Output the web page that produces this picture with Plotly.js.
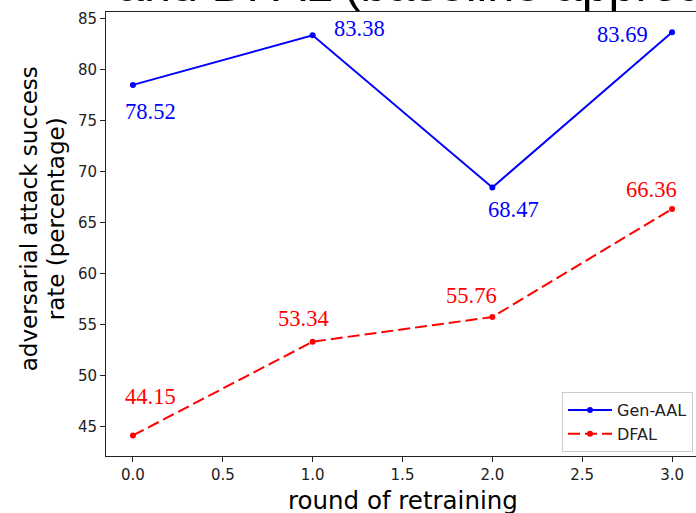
<!DOCTYPE html>
<html>
<head>
<meta charset="utf-8">
<script src="https://cdn.plot.ly/plotly-3.0.1.min.js"></script>
<style>html,body{margin:0;padding:0;background:#fff;}#chart{width:696px;height:513px;}</style>
</head>
<body>
<div id="chart"></div>
<script>
// ---- data ----
const rounds = [0, 1, 2, 3];
const genAAL = [78.52, 83.38, 68.47, 83.69];
const dfal = [44.15, 53.34, 55.76, 66.36];
const seriesNames = ["Gen-AAL", "DFAL"];
const xTickVals = [0, 0.5, 1, 1.5, 2, 2.5, 3];
const yTickVals = [45, 50, 55, 60, 65, 70, 75, 80, 85];
const titleText = "and DFAL (baseline approach)";
const xTitle = "round of retraining";
const yTitleLines = ["adversarial attack success", "rate (percentage)"];

// label offsets in pixels (dx right, dy down) relative to each point
const genShift = [[18, 26.5], [47, -7], [21, 22], [-50, 2]];
const dfalShift = [[18, -39], [-9, -23], [-21, -22], [-21, -19]];

const W = 696, H = 513;
const M = {l: 106, r: 0, t: 11.5, b: 57};
const pw = W - M.l - M.r, ph = H - M.t - M.b;
const px2paperX = p => (p - M.l) / pw;
const px2paperY = p => (H - M.b - p) / ph;

const traces = [
  {x: rounds, y: genAAL, name: seriesNames[0], type: 'scatter', mode: 'lines+markers',
   line: {color: '#0000ff', width: 2}, marker: {color: '#0000ff', size: 6}},
  {x: rounds, y: dfal, name: seriesNames[1], type: 'scatter', mode: 'lines+markers',
   line: {color: '#ff0000', width: 2, dash: '12px,5px'}, marker: {color: '#ff0000', size: 6}}
];

const annotations = [];
function addLabels(vals, shifts, color) {
  vals.forEach((v, i) => {
    annotations.push({x: rounds[i], y: v, xref: 'x', yref: 'y', text: v.toFixed(2), showarrow: false,
      xanchor: 'center', yanchor: 'middle', xshift: shifts[i][0], yshift: -shifts[i][1],
      font: {family: 'Liberation Serif, Times New Roman, serif', size: 22.5, color: color}});
  });
}
addLabels(genAAL, genShift, '#0000ff');
addLabels(dfal, dfalShift, '#ff0000');

// title (mostly cut off at top of image)
annotations.push({xref: 'paper', yref: 'paper', x: px2paperX(115), y: px2paperY(14), yshift: 1.5, xanchor: 'left', yanchor: 'bottom',
  text: titleText, showarrow: false, font: {family: 'Liberation Sans, Arial, sans-serif', size: 48.5, color: '#000'}});
// x axis title
annotations.push({xref: 'paper', yref: 'paper', x: px2paperX(403), y: px2paperY(501), xanchor: 'center', yanchor: 'middle',
  text: xTitle, showarrow: false, font: {family: 'DejaVu Sans, sans-serif', size: 24.5, color: '#000'}});
// y axis title (two lines)
annotations.push({xref: 'paper', yref: 'paper', x: px2paperX(29), y: px2paperY(219), xanchor: 'center', yanchor: 'middle',
  text: yTitleLines[0], textangle: -90, showarrow: false, font: {family: 'DejaVu Sans, sans-serif', size: 23, color: '#000'}});
annotations.push({xref: 'paper', yref: 'paper', x: px2paperX(56), y: px2paperY(219), xanchor: 'center', yanchor: 'middle',
  text: yTitleLines[1], textangle: -90, showarrow: false, font: {family: 'DejaVu Sans, sans-serif', size: 23, color: '#000'}});

const layout = {
  width: W, height: H,
  margin: M,
  paper_bgcolor: '#fff', plot_bgcolor: '#fff',
  showlegend: true,
  xaxis: {range: [-0.15, -0.15 + pw / 179.7], tickvals: xTickVals, tickformat: '.1f',
    showgrid: false, zeroline: false, showline: true, mirror: true, linecolor: '#222', linewidth: 1,
    ticks: 'outside', ticklen: 5, tickwidth: 1, tickcolor: '#222',
    tickfont: {family: 'DejaVu Sans, sans-serif', size: 15, color: '#222'}},
  yaxis: {range: [42.13, 85.67], tickvals: yTickVals,
    showgrid: false, zeroline: false, showline: true, linecolor: '#222', linewidth: 1,
    ticks: 'outside', ticklen: 5, tickwidth: 1, tickcolor: '#222',
    tickfont: {family: 'DejaVu Sans, sans-serif', size: 15, color: '#222'}},
  legend: {x: px2paperX(562), y: px2paperY(392), xanchor: 'left', yanchor: 'top',
    itemwidth: 44, tracegroupgap: 0,
    bgcolor: 'rgba(255,255,255,0.9)', bordercolor: '#cccccc', borderwidth: 1,
    font: {family: 'DejaVu Sans, sans-serif', size: 16, color: '#222'}},
  annotations: annotations
};

Plotly.newPlot('chart', traces, layout, {displayModeBar: false, staticPlot: true});
</script>
</body>
</html>
